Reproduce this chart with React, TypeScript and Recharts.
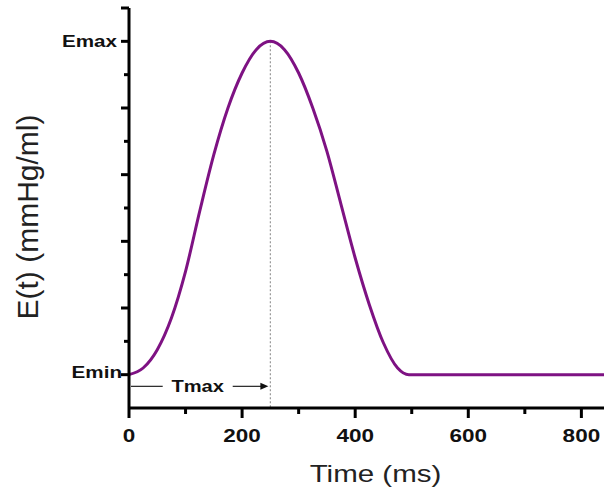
import { LineChart, Line, XAxis, YAxis, ReferenceLine } from "recharts";

// elastance curve (Emin = 0, Emax = 10 on a normalised scale)
const timeMs = [0, 25, 50, 75, 100, 125, 150, 175, 200, 225, 250, 275, 300, 325, 350, 375, 400, 425, 450, 475, 495, 520, 600, 700, 840];
const elastance = [0, 0.2, 0.75, 1.7, 3.1, 4.9, 6.6, 8.0, 9.05, 9.75, 10, 9.75, 9.05, 8.0, 6.7, 5.1, 3.5, 2.1, 0.95, 0.2, 0, 0, 0, 0, 0];

const xTicks = [0, 100, 200, 300, 400, 500, 600, 700, 800];
const yTicks = [0, 1, 2, 3, 4, 5, 6, 7, 8, 9, 10, 11];
const yTickLabels: Record<number, string> = { 0: "Emin", 10: "Emax" };

const tMax = 250;
const eMax = 10;
const tMaxArrowLevel = -0.35;

const curveData = timeMs.map((t, i) => ({ t, e: elastance[i] }));

const FONT = "'Liberation Sans', Arial, sans-serif";

function XTick(props: any) {
  const { x, y, payload } = props;
  const major = payload.value % 200 === 0;
  return (
    <g>
      <line x1={x} x2={x} y1={y} y2={y + (major ? 10 : 6)} stroke="#000" strokeWidth={3} />
      {major && (
        <text
          transform={`translate(${x},${y + 34}) scale(1.25,1)`}
          textAnchor="middle"
          fontFamily={FONT}
          fontWeight="bold"
          fontSize={18}
          fill="#111"
        >
          {payload.value}
        </text>
      )}
    </g>
  );
}

function YTick(props: any) {
  const { x, y, payload } = props;
  const v = payload.value;
  const major = v % 2 === 0 || v === 11;
  const label = yTickLabels[v];
  return (
    <g>
      <line x1={x - (major ? 8 : 5)} x2={x} y1={y} y2={y} stroke="#000" strokeWidth={3} />
      {label && (
        <text
          transform={`translate(${x - (v === 0 ? 7 : 12)},${y + (v === 0 ? 3 : 6)}) scale(1.25,1)`}
          textAnchor="end"
          fontFamily={FONT}
          fontWeight="bold"
          fontSize={16.5}
          fill="#111"
        >
          {label}
        </text>
      )}
    </g>
  );
}

function XTitle(props: any) {
  const vb = props.viewBox || { x: 129, y: 408, width: 474, height: 60 };
  return (
    <text
      transform={`translate(${vb.x + vb.width / 2 + 9},${vb.y + 74}) scale(1.23,1)`}
      textAnchor="middle"
      fontFamily={FONT}
      fontSize={24}
      fill="#222"
    >
      Time (ms)
    </text>
  );
}

function YTitle(props: any) {
  const vb = props.viewBox || { x: 69, y: 8, width: 60, height: 400 };
  return (
    <text
      transform={`translate(${vb.x + vb.width - 91},${vb.y + vb.height / 2 + 9}) rotate(-90)`}
      textAnchor="middle"
      fontFamily={FONT}
      fontSize={30}
      fill="#222"
    >
      E(t) (mmHg/ml)
    </text>
  );
}

function TmaxArrow(props: any) {
  const { x1, y1, x2 } = props;
  const mid = x1 + (x2 - x1) * 0.486;
  return (
    <g>
      <line x1={x1 + 2} x2={mid - 35} y1={y1} y2={y1} stroke="#222" strokeWidth={1.2} />
      <text
        transform={`translate(${mid},${y1 + 6}) scale(1.22,1)`}
        textAnchor="middle"
        fontFamily={FONT}
        fontWeight="bold"
        fontSize={16.5}
        fill="#111"
      >
        Tmax
      </text>
      <line x1={mid + 35} x2={x2 - 8} y1={y1} y2={y1} stroke="#222" strokeWidth={1.2} />
      <polygon
        points={`${x2 - 2},${y1} ${x2 - 10},${y1 - 3.5} ${x2 - 10},${y1 + 3.5}`}
        fill="#111"
      />
    </g>
  );
}

export default function App() {
  return (
    <div style={{ position: "absolute", left: 0, top: 0, background: "#fff" }}>
      <LineChart
        width={605}
        height={500}
        data={curveData}
        margin={{ top: 8, right: 1, bottom: 32, left: 69 }}
      >
        <XAxis
          type="number"
          dataKey="t"
          domain={[0, 840]}
          ticks={xTicks}
          interval={0}
          height={60}
          tickSize={0}
          tickMargin={0}
          tickLine={false}
          axisLine={{ stroke: "#000", strokeWidth: 3 }}
          tick={<XTick />}
          label={<XTitle />}
        />
        <YAxis
          type="number"
          domain={[-1, 11]}
          ticks={yTicks}
          interval={0}
          width={60}
          tickSize={0}
          tickMargin={0}
          tickLine={false}
          axisLine={{ stroke: "#000", strokeWidth: 3 }}
          tick={<YTick />}
          label={<YTitle />}
        />
        <ReferenceLine
          segment={[
            { x: tMax, y: eMax },
            { x: tMax, y: -1 },
          ]}
          stroke="#999"
          strokeWidth={1.2}
          strokeDasharray="2 2"
        />
        <ReferenceLine
          segment={[
            { x: 0, y: tMaxArrowLevel },
            { x: tMax, y: tMaxArrowLevel },
          ]}
          shape={<TmaxArrow />}
        />
        <Line
          type="monotone"
          dataKey="e"
          stroke="#7e1283"
          strokeWidth={3}
          dot={false}
          isAnimationActive={false}
        />
      </LineChart>
    </div>
  );
}
